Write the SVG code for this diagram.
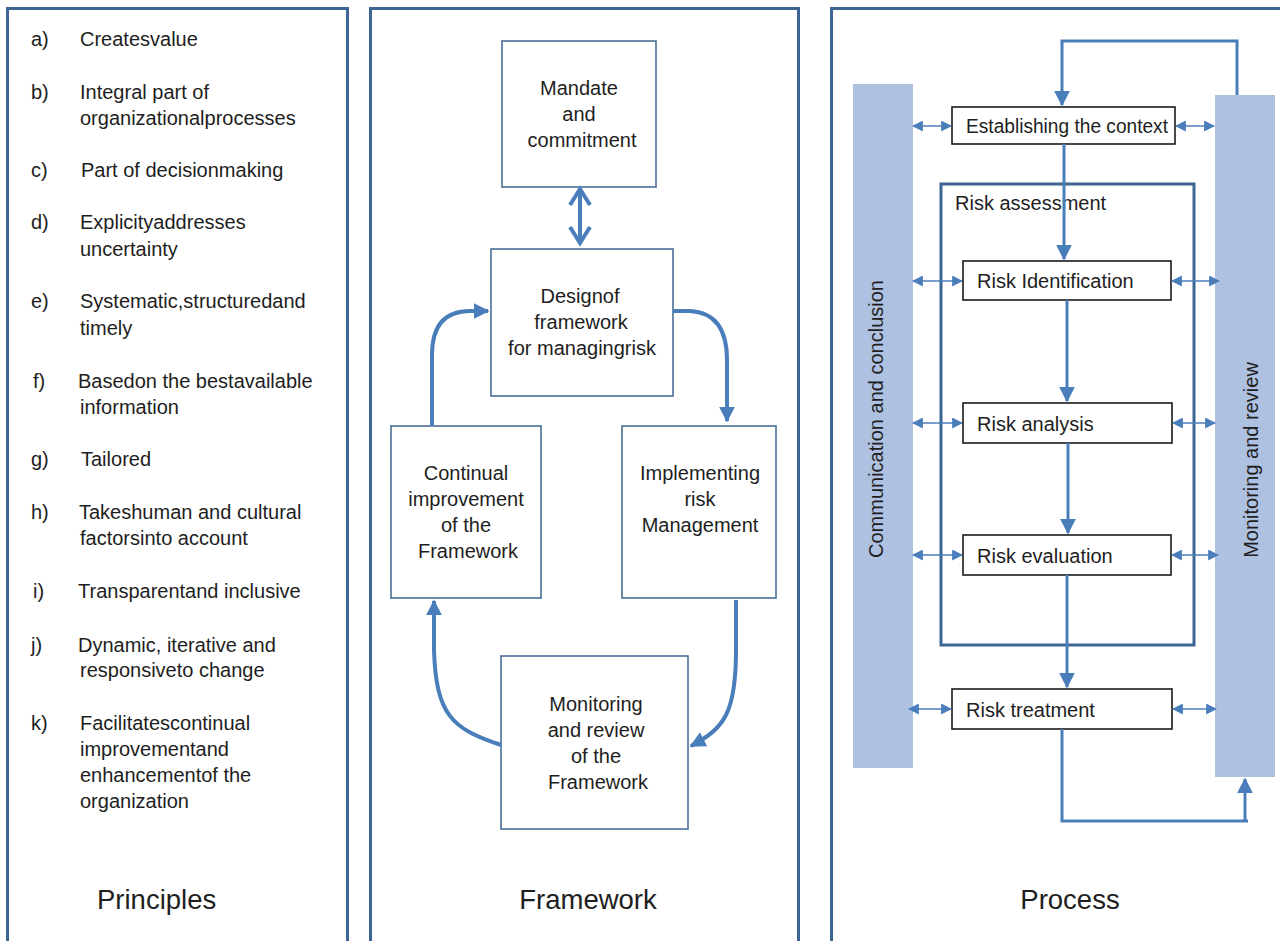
<svg xmlns="http://www.w3.org/2000/svg" width="1280" height="941" viewBox="0 0 1280 941">
<style>
.panel{fill:#fff;stroke:#3d6593;stroke-width:3}
.t{font-family:"Liberation Sans",Arial,sans-serif;fill:#1e1e1e}
.p{font-size:20px}
.fb{fill:#fff;stroke:#3d6593;stroke-width:1.5}
.fc{font-size:20px;text-anchor:middle}
.title{font-size:27.5px}
.fa{fill:none;stroke:#4a7ebb;stroke-width:4}
.pb{fill:#fff;stroke:#1a1a1a;stroke-width:1.6}
.ps{font-size:20px}
.bar{fill:#afc1e1}
.pl{fill:none;stroke:#4a7ebb;stroke-width:3}
.sl{fill:none;stroke:#4a7ebb;stroke-width:1.6}
</style>
<defs>
<marker id="ah" viewBox="0 0 10 10" refX="9" refY="5" markerUnits="userSpaceOnUse" markerWidth="16" markerHeight="16" orient="auto"><path d="M0,0 L10,5 L0,10 z" fill="#4a7ebb"/></marker>
<marker id="ph" viewBox="0 0 10 10" refX="9" refY="5" markerUnits="userSpaceOnUse" markerWidth="16" markerHeight="18" orient="auto"><path d="M0,0 L10,5 L0,10 z" fill="#4a7ebb"/></marker>
<marker id="sh" viewBox="0 0 10 10" refX="9" refY="5" markerUnits="userSpaceOnUse" markerWidth="11" markerHeight="11" orient="auto-start-reverse"><path d="M0,0 L10,5 L0,10 z" fill="#4a7ebb"/></marker>
</defs>
<rect width="1280" height="941" fill="#fff"/>

<g id="principles">
<rect class="panel" x="7.5" y="8.5" width="340" height="940"/>
<g class="t p">
<text x="31" y="46">a)</text><text x="80" y="46">Createsvalue</text>
<text x="31" y="99">b)</text><text x="80" y="99">Integral part of</text><text x="80" y="125">organizationalprocesses</text>
<text x="31" y="177">c)</text><text x="81" y="177">Part of decisionmaking</text>
<text x="31" y="229">d)</text><text x="80" y="229">Explicityaddresses</text><text x="80" y="256">uncertainty</text>
<text x="31" y="308">e)</text><text x="80" y="308">Systematic,structuredand</text><text x="80" y="335">timely</text>
<text x="33" y="388">f)</text><text x="78" y="388">Basedon the bestavailable</text><text x="80" y="414">information</text>
<text x="31" y="466">g)</text><text x="81" y="466">Tailored</text>
<text x="31" y="519">h)</text><text x="79" y="519">Takeshuman and cultural</text><text x="80" y="545">factorsinto account</text>
<text x="33" y="598">i)</text><text x="78" y="598">Transparentand inclusive</text>
<text x="31" y="652">j)</text><text x="78" y="652">Dynamic, iterative and</text><text x="80" y="677">responsiveto change</text>
<text x="31" y="730">k)</text><text x="80" y="730">Facilitatescontinual</text><text x="80" y="756">improvementand</text><text x="80" y="782">enhancementof the</text><text x="80" y="808">organization</text>
</g>
<text class="t title" x="97" y="909">Principles</text>
</g>

<g id="framework">
<rect class="panel" x="370.5" y="8.5" width="428" height="940"/>
<text class="t title" x="588" y="909" text-anchor="middle">Framework</text>
</g>

<g id="fw-mandate">
<rect class="fb" x="502" y="41" width="154" height="146"/>
<text class="t fc" x="579" y="95">Mandate</text><text class="t fc" x="579" y="121">and</text><text class="t fc" x="582" y="147">commitment</text>
</g>
<g id="fw-design">
<rect class="fb" x="491" y="249" width="182" height="147"/>
<text class="t fc" x="580" y="303">Designof</text><text class="t fc" x="581" y="329">framework</text><text class="t fc" x="582" y="355">for managingrisk</text>
</g>
<g id="fw-continual">
<rect class="fb" x="391" y="426" width="150" height="172"/>
<text class="t fc" x="466" y="480">Continual</text><text class="t fc" x="466" y="506">improvement</text><text class="t fc" x="466" y="532">of the</text><text class="t fc" x="468" y="558">Framework</text>
</g>
<g id="fw-implementing">
<rect class="fb" x="622" y="426" width="154" height="172"/>
<text class="t fc" x="700" y="480">Implementing</text><text class="t fc" x="700" y="506">risk</text><text class="t fc" x="700" y="532">Management</text>
</g>
<g id="fw-monitoring">
<rect class="fb" x="501" y="656" width="187" height="173"/>
<text class="t fc" x="596" y="711">Monitoring</text><text class="t fc" x="596" y="737">and review</text><text class="t fc" x="596" y="763">of the</text><text class="t fc" x="598" y="789">Framework</text>
</g>

<g id="fw-connectors">
<path class="fa" d="M580,189 L580,243"/>
<path class="fa" d="M570,205 L580,189 L590,205 M570,227 L580,243 L590,227"/>
<path class="fa" d="M432,426 L432,355 Q432,311 470,311 L488,311" marker-end="url(#ah)"/>
<path class="fa" d="M673,311 L690,311 Q727,313 727,360 L727,421" marker-end="url(#ah)"/>
<path class="fa" d="M736,600 L736,650 C736,712 725,728 691,746" marker-end="url(#ah)"/>
<path class="fa" d="M501,745 C452,729 436,715 434,650 L434,601" marker-end="url(#ah)"/>
</g>

<g id="process">
<rect class="panel" x="831.5" y="8.5" width="460" height="940"/>
<text class="t title" x="1070" y="909" text-anchor="middle">Process</text>
</g>
<g id="communication">
<rect class="bar" x="853" y="84" width="60" height="684"/>
<text class="t ps" transform="translate(883,419) rotate(-90)" text-anchor="middle">Communication and conclusion</text>
</g>
<g id="monitoring-review">
<rect class="bar" x="1215" y="95" width="60" height="682"/>
<text class="t ps" transform="translate(1258,460) rotate(-90)" text-anchor="middle">Monitoring and review</text>
</g>
<g id="risk-assessment">
<rect x="941" y="184" width="253" height="461" fill="none" stroke="#3d6593" stroke-width="3"/>
<text class="t ps" x="955" y="210">Risk assessment</text>
</g>
<g id="establishing">
<rect class="pb" x="952" y="107" width="223" height="37"/>
<text class="t ps" x="966" y="133" textLength="202" lengthAdjust="spacingAndGlyphs">Establishing the context</text>
</g>
<g id="identification">
<rect class="pb" x="963" y="261" width="208" height="39"/>
<text class="t ps" x="977" y="288">Risk Identification</text>
</g>
<g id="analysis">
<rect class="pb" x="963" y="403" width="209" height="40"/>
<text class="t ps" x="977" y="431">Risk analysis</text>
</g>
<g id="evaluation">
<rect class="pb" x="963" y="535" width="208" height="40"/>
<text class="t ps" x="977" y="563">Risk evaluation</text>
</g>
<g id="treatment">
<rect class="pb" x="952" y="689" width="220" height="40"/>
<text class="t ps" x="966" y="717">Risk treatment</text>
</g>

<g id="process-connectors">
<path class="pl" d="M1237,95 L1237,41 L1062,41 L1062,105" marker-end="url(#ph)"/>
<path class="pl" d="M1064,144 L1064,259" marker-end="url(#ph)"/>
<path class="pl" d="M1067,300 L1067,401" marker-end="url(#ph)"/>
<path class="pl" d="M1068,443 L1068,533" marker-end="url(#ph)"/>
<path class="pl" d="M1067,575 L1067,687" marker-end="url(#ph)"/>
<path class="pl" d="M1062,729 L1062,821 L1248,821"/>
<path class="pl" d="M1245,821 L1245,779" marker-end="url(#ph)"/>
<path class="sl" d="M913,126 L951,126" marker-start="url(#sh)" marker-end="url(#sh)"/>
<path class="sl" d="M1176,126 L1214,126" marker-start="url(#sh)" marker-end="url(#sh)"/>
<path class="sl" d="M913,281 L962,281" marker-start="url(#sh)" marker-end="url(#sh)"/>
<path class="sl" d="M1172,281 L1219,281" marker-start="url(#sh)" marker-end="url(#sh)"/>
<path class="sl" d="M913,423 L962,423" marker-start="url(#sh)" marker-end="url(#sh)"/>
<path class="sl" d="M1173,423 L1215,423" marker-start="url(#sh)" marker-end="url(#sh)"/>
<path class="sl" d="M913,555 L962,555" marker-start="url(#sh)" marker-end="url(#sh)"/>
<path class="sl" d="M1172,555 L1218,555" marker-start="url(#sh)" marker-end="url(#sh)"/>
<path class="sl" d="M909,709 L951,709" marker-start="url(#sh)" marker-end="url(#sh)"/>
<path class="sl" d="M1173,709 L1216,709" marker-start="url(#sh)" marker-end="url(#sh)"/>
</g>
</svg>
